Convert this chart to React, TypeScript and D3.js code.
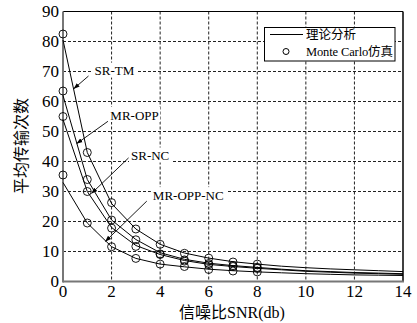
import React from 'react';
import * as d3 from 'd3';

// SNR points (dB)
const snrTheory = [0, 1, 2, 3, 4, 5, 6, 7, 8, 9, 10, 11, 12, 13, 14];
const snrSim = [0, 1, 2, 3, 4, 5, 6, 7, 8];

// theoretical curves
const srTmTheory = [80.5, 43, 26, 17.5, 12.4, 9.5, 7.8, 6.6, 5.8, 5.1, 4.6, 4.2, 3.9, 3.6, 3.3];
const mrOppTheory = [62, 34, 20.5, 14, 9.6, 7.4, 6.1, 5.3, 4.7, 4.1, 3.6, 3.3, 3.0, 2.8, 2.6];
const srNcTheory = [54, 30, 18, 12, 9.0, 7.0, 5.7, 5.0, 4.4, 3.9, 3.4, 3.1, 2.8, 2.6, 2.4];
const mrOppNcTheory = [33, 19.5, 11.6, 7.7, 5.8, 4.9, 4.1, 3.6, 3.2, 2.9, 2.6, 2.4, 2.2, 2.1, 2.0];

// monte carlo points
const srTmSim = [82.5, 43, 26.3, 17.5, 12.4, 9.4, 7.8, 6.5, 5.8];
const mrOppSim = [63.5, 34, 20.5, 13.9, 9.2, 7.2, 6.0, 5.3, 4.7];
const srNcSim = [55, 30, 17.8, 11.7, 9.0, 6.8, 5.6, 5.0, 4.4];
const mrOppNcSim = [35.5, 19.5, 11.6, 7.7, 5.8, 5.0, 4.0, 3.5, 3.2];

const xTicks = [0, 2, 4, 6, 8, 10, 12, 14];
const yTicks = [0, 10, 20, 30, 40, 50, 60, 70, 80, 90];

// annotations: label, label position (data), arrow from / tip (data)
const annotations = [
  { text: 'SR-TM', lx: 1.3, ly: 70.3, from: [1.05, 68.5], to: [0.45, 64.3] },
  { text: 'MR-OPP', lx: 1.95, ly: 55.5, from: [1.85, 53.4], to: [0.57, 46.0] },
  { text: 'SR-NC', lx: 2.8, ly: 42.0, from: [2.7, 41.2], to: [1.18, 29.4] },
  { text: 'MR-OPP-NC', lx: 3.7, ly: 28.8, from: [3.45, 26.8], to: [1.75, 13.4] },
];

const W = 417;
const H = 323;
const left = 63;
const right = 403;
const top = 11.5;
const bottom = 281.5;
const serif = '"Liberation Serif", "Times New Roman", "Noto Sans CJK SC", serif';

const App: React.FC = () => {
  const x = d3.scaleLinear().domain([0, 14]).range([left, right]);
  const y = d3.scaleLinear().domain([0, 90]).range([bottom, top]);

  const line = d3
    .line<number>()
    .x((_, i) => x(snrTheory[i]))
    .y((d) => y(d));

  const theory = [srTmTheory, mrOppTheory, srNcTheory, mrOppNcTheory];
  const sims = [srTmSim, mrOppSim, srNcSim, mrOppNcSim];

  return (
    <svg
      width={W}
      height={H}
      style={{ position: 'absolute', left: 0, top: 0, background: '#fff' }}
    >
      <defs>
        <marker id="arr" viewBox="0 0 10 10" refX="9" refY="5" markerWidth="7" markerHeight="7" orient="auto">
          <path d="M0,1.5 L10,5 L0,8.5 z" fill="#000" />
        </marker>
      </defs>
      <rect x={left} y={top} width={right - left} height={bottom - top} fill="#fff" />

      {/* grid */}
      {xTicks.slice(1, -1).map((t) => (
        <line key={'gx' + t} x1={x(t)} x2={x(t)} y1={top} y2={bottom} stroke="#222" strokeWidth={1} strokeDasharray="3,2" />
      ))}
      {yTicks.slice(1, -1).map((t) => (
        <line key={'gy' + t} x1={left} x2={right} y1={y(t)} y2={y(t)} stroke="#222" strokeWidth={1} strokeDasharray="3,2" />
      ))}

      {/* frame */}
      <line x1={left} x2={right} y1={top} y2={top} stroke="#000" strokeWidth={1.2} />
      <line x1={right} x2={right} y1={top} y2={bottom} stroke="#000" strokeWidth={1.5} />
      <line x1={left} x2={left} y1={top} y2={bottom + 1} stroke="#777" strokeWidth={2} />
      <line x1={left} x2={right + 1} y1={bottom} y2={bottom} stroke="#777" strokeWidth={2} />

      {/* theory lines */}
      {theory.map((s, i) => (
        <path key={'l' + i} d={line(s) || ''} fill="none" stroke="#000" strokeWidth={1} />
      ))}

      {/* simulation points */}
      {sims.map((s, i) =>
        s.map((v, j) => (
          <circle key={'c' + i + '-' + j} cx={x(snrSim[j])} cy={y(v)} r={4} fill="none" stroke="#000" strokeWidth={0.9} />
        ))
      )}

      {/* annotations */}
      {annotations.map((a) => (
        <g key={a.text}>
          <line
            x1={x(a.from[0])}
            y1={y(a.from[1])}
            x2={x(a.to[0])}
            y2={y(a.to[1])}
            stroke="#000"
            strokeWidth={0.9}
            markerEnd="url(#arr)"
          />
          <rect x={x(a.lx) - 2} y={y(a.ly) - 8} width={a.text.length * 8.3 + 2} height={15} fill="#fff" />
          <text x={x(a.lx)} y={y(a.ly)} dy="0.35em" fontFamily={serif} fontSize={13} fill="#000">
            {a.text}
          </text>
        </g>
      ))}

      {/* tick labels */}
      {xTicks.map((t) => (
        <text key={'tx' + t} x={x(t)} y={bottom + 15} textAnchor="middle" fontFamily={serif} fontSize={17} fill="#000">
          {t}
        </text>
      ))}
      {yTicks.map((t) => (
        <text key={'ty' + t} x={left - 4} y={y(t)} dy="0.35em" textAnchor="end" fontFamily={serif} fontSize={17} fill="#000">
          {t}
        </text>
      ))}

      {/* axis titles */}
      <text x={232} y={312} textAnchor="middle" dy="0.35em" fontFamily={serif} fontSize={16} fill="#000">
        信噪比SNR(db)
      </text>
      <text
        transform={`translate(21,146) rotate(-90)`}
        textAnchor="middle"
        dy="0.35em"
        fontFamily={serif}
        fontSize={16}
        fill="#000"
      >
        平均传输次数
      </text>

      {/* legend */}
      <rect x={264.5} y={27.5} width={130.5} height={33.5} fill="#fff" stroke="#000" strokeWidth={1} />
      <line x1={270} x2={303} y1={34.5} y2={34.5} stroke="#000" strokeWidth={1} />
      <text x={306} y={35} dy="0.35em" fontFamily={serif} fontSize={12.5} fill="#000">
        理论分析
      </text>
      <circle cx={286} cy={51.5} r={3} fill="none" stroke="#000" strokeWidth={1} />
      <text x={306} y={51.5} dy="0.35em" fontFamily={serif} fontSize={12.5} textLength={87} fill="#000">
        Monte Carlo仿真
      </text>
    </svg>
  );
};

export default App;
